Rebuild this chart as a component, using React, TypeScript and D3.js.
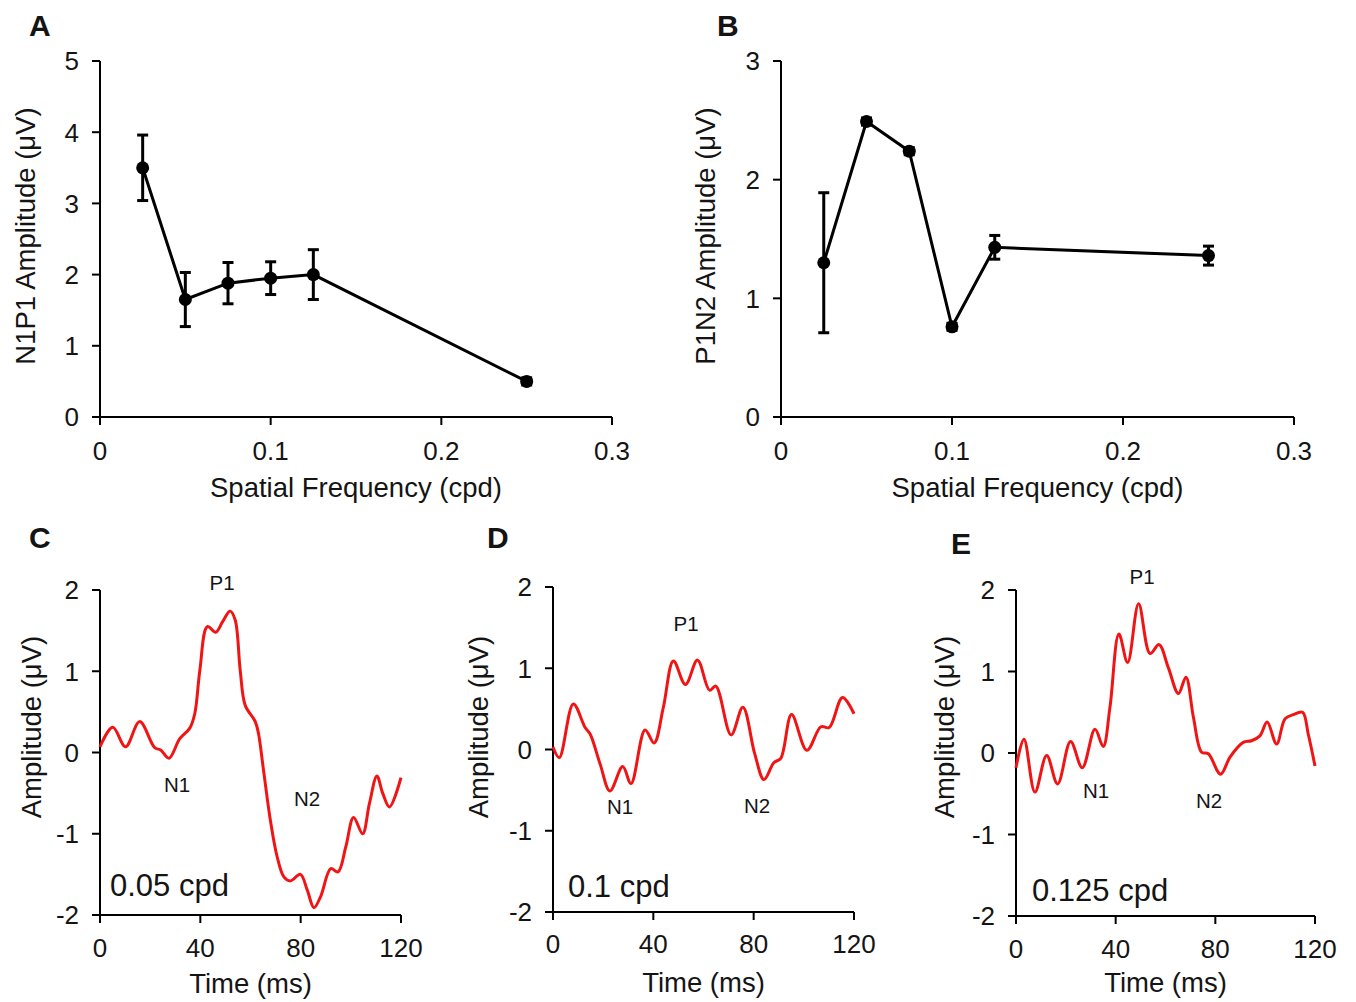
import React from "react";
import * as d3 from "d3";

// ---------- data ----------
const spatialFreq = [0.025, 0.05, 0.075, 0.1, 0.125, 0.25];
const n1p1Amp = [3.5, 1.65, 1.88, 1.95, 2.0, 0.5];
const n1p1Err = [0.46, 0.38, 0.29, 0.23, 0.35, 0.05];
const p1n2Amp = [1.3, 2.49, 2.24, 0.76, 1.43, 1.36];
const p1n2Err = [0.59, 0.03, 0.03, 0.03, 0.1, 0.08];

const sfTicks = [0, 0.1, 0.2, 0.3];
const sfTickLabels = ["0", "0.1", "0.2", "0.3"];
const aTicks = [0, 1, 2, 3, 4, 5];
const bTicks = [0, 1, 2, 3];
const timeTicks = [0, 40, 80, 120];
const ampTicks = [-2, -1, 0, 1, 2];

// waveforms: [time ms, amplitude µV]
const wave005: [number, number][] = [
  [0, 0.07], [5.1, 0.31], [10.2, 0.07], [15.8, 0.38], [21.8, 0.06], [24.2, 0.03],
  [27.5, -0.07], [31.8, 0.17], [35.8, 0.3], [37.8, 0.48], [39.8, 1.01], [42.8, 1.55],
  [46.1, 1.48], [48.9, 1.61], [51.9, 1.74], [53.9, 1.63], [55.9, 1.01], [57.9, 0.58],
  [61.9, 0.38], [63.2, 0.23], [65.2, -0.22], [67.9, -0.83], [70.6, -1.28], [73.3, -1.53],
  [75.9, -1.58], [79.9, -1.5], [82.6, -1.69], [85.3, -1.91], [88.0, -1.77], [92.0, -1.43],
  [94.9, -1.47], [98.0, -1.16], [101.1, -0.8], [104.7, -1.0], [107.4, -0.63], [110.4, -0.29],
  [112.7, -0.5], [115.4, -0.67], [120, -0.31],
];
const wave01: [number, number][] = [
  [0, 0.03], [2.5, -0.1], [8.1, 0.56], [12.8, 0.27], [14.8, 0.19], [18.8, -0.18],
  [22.7, -0.51], [27.8, -0.21], [31.1, -0.42], [36.7, 0.24], [40.3, 0.08], [44.0, 0.52],
  [48.0, 1.09], [52.8, 0.8], [57.6, 1.1], [62.4, 0.73], [64.9, 0.78], [71.0, 0.18],
  [75.7, 0.52], [80.4, -0.05], [84.1, -0.37], [88.1, -0.16], [90.8, -0.11], [95.1, 0.43],
  [101.2, -0.01], [106.8, 0.28], [110.1, 0.27], [115.4, 0.64], [120, 0.44],
];
const wave0125: [number, number][] = [
  [0, -0.18], [3.2, 0.17], [7.6, -0.48], [12.3, -0.03], [16.7, -0.38], [21.9, 0.14],
  [26.6, -0.18], [31.7, 0.29], [35.0, 0.08], [37.7, 0.56], [41.3, 1.46], [44.8, 1.11],
  [49.2, 1.83], [53.8, 1.22], [57.4, 1.33], [61.1, 1.05], [65.2, 0.73], [68.2, 0.93],
  [71.2, 0.44], [74.5, 0.01], [77.2, -0.01], [82.1, -0.26], [85.9, -0.05], [91.2, 0.13],
  [94.5, 0.15], [97.9, 0.21], [100.8, 0.38], [104.6, 0.11], [108.0, 0.42], [111.3, 0.47],
  [115.0, 0.5], [117.3, 0.23], [120, -0.16],
];

const FONT = "'Liberation Sans', Arial, Helvetica, sans-serif";
const TXT = "#141414";
const TICK_FS = 26;
const TITLE_FS = 27.5;
const LETTER_FS = 30;

type PanelProps = {
  x0: number; x1: number; y0: number; y1: number;
};

function ErrorPanel(props: {
  letter: string; letterX: number; x0: number; x1: number; yBot: number; yTop: number;
  yMax: number; yTicks: number[]; values: number[]; errs: number[]; yTitle: string; yTitleX: number; yTitleY: number;
}) {
  const { x0, x1, yBot, yTop } = props;
  const x = d3.scaleLinear().domain([0, 0.3]).range([x0, x1]);
  const y = d3.scaleLinear().domain([0, props.yMax]).range([yBot, yTop]);
  const pts = spatialFreq.map((f, i) => [f, props.values[i]] as [number, number]);
  const line = d3.line<[number, number]>().x((d) => x(d[0])).y((d) => y(d[1]));
  return (
    <g>
      <text x={props.letterX} y={36} fontFamily={FONT} fontWeight="bold" fontSize={LETTER_FS} fill={TXT}>{props.letter}</text>
      <line x1={x0} x2={x0} y1={yTop} y2={yBot} stroke="#000" strokeWidth={2} />
      <line x1={x0} x2={x1} y1={yBot} y2={yBot} stroke="#000" strokeWidth={2} />
      {props.yTicks.map((t) => (
        <g key={"y" + t}>
          <line x1={x0 - 8} x2={x0} y1={y(t)} y2={y(t)} stroke="#000" strokeWidth={2} />
          <text x={x0 - 21} y={y(t)} dy="0.36em" textAnchor="end" fontFamily={FONT} fontSize={TICK_FS} fill={TXT}>{t}</text>
        </g>
      ))}
      {sfTicks.map((t, i) => (
        <g key={"x" + t}>
          <line x1={x(t)} x2={x(t)} y1={yBot} y2={yBot + 8} stroke="#000" strokeWidth={2} />
          <text x={x(t)} y={yBot + 43} textAnchor="middle" fontFamily={FONT} fontSize={TICK_FS} fill={TXT}>{sfTickLabels[i]}</text>
        </g>
      ))}
      <text x={(x0 + x1) / 2} y={yBot + 80} textAnchor="middle" fontFamily={FONT} fontSize={TITLE_FS} fill={TXT}>Spatial Frequency (cpd)</text>
      <text transform={`translate(${props.yTitleX},${props.yTitleY}) rotate(-90)`} dy="0.36em" textAnchor="middle" fontFamily={FONT} fontSize={TITLE_FS} fill={TXT}>{props.yTitle}</text>
      <path d={line(pts) || ""} fill="none" stroke="#000" strokeWidth={3} />
      {pts.map((p, i) => {
        const lo = y(p[1] - props.errs[i]);
        const hi = y(p[1] + props.errs[i]);
        const cx = x(p[0]);
        return (
          <g key={"e" + i}>
            <line x1={cx} x2={cx} y1={lo} y2={hi} stroke="#000" strokeWidth={3} />
            <line x1={cx - 5.5} x2={cx + 5.5} y1={lo} y2={lo} stroke="#000" strokeWidth={3} />
            <line x1={cx - 5.5} x2={cx + 5.5} y1={hi} y2={hi} stroke="#000" strokeWidth={3} />
            <circle cx={cx} cy={y(p[1])} r={6.5} fill="#000" />
          </g>
        );
      })}
    </g>
  );
}

function WavePanel(props: PanelProps & {
  letter: string; letterX: number; letterY: number; data: [number, number][];
  labels: { t: string; x: number; y: number }[]; cpd: string; cpdX: number; cpdY: number;
  yTitleX: number; yTitleY: number; tickDy: number; titleDy: number;
}) {
  const { x0, x1, y0, y1 } = props; // y0 = bottom (-2), y1 = top (2)
  const x = d3.scaleLinear().domain([0, 120]).range([x0, x1]);
  const y = d3.scaleLinear().domain([-2, 2]).range([y0, y1]);
  const line = d3.line<[number, number]>().x((d) => x(d[0])).y((d) => y(d[1])).curve(d3.curveCatmullRom.alpha(0.5));
  return (
    <g>
      <text x={props.letterX} y={props.letterY} fontFamily={FONT} fontWeight="bold" fontSize={LETTER_FS} fill={TXT}>{props.letter}</text>
      <line x1={x0} x2={x0} y1={y1} y2={y0} stroke="#000" strokeWidth={2} />
      <line x1={x0} x2={x1} y1={y0} y2={y0} stroke="#000" strokeWidth={2} />
      {ampTicks.map((t) => (
        <g key={"y" + t}>
          <line x1={x0 - 8} x2={x0} y1={y(t)} y2={y(t)} stroke="#000" strokeWidth={2} />
          <text x={x0 - 21} y={y(t)} dy="0.36em" textAnchor="end" fontFamily={FONT} fontSize={TICK_FS} fill={TXT}>{t}</text>
        </g>
      ))}
      {timeTicks.map((t) => (
        <g key={"x" + t}>
          <line x1={x(t)} x2={x(t)} y1={y0} y2={y0 + 8} stroke="#000" strokeWidth={2} />
          <text x={x(t)} y={y0 + props.tickDy} textAnchor="middle" fontFamily={FONT} fontSize={TICK_FS} fill={TXT}>{t}</text>
        </g>
      ))}
      <text x={(x0 + x1) / 2} y={y0 + props.titleDy} textAnchor="middle" fontFamily={FONT} fontSize={TITLE_FS} fill={TXT}>Time (ms)</text>
      <text transform={`translate(${props.yTitleX},${props.yTitleY}) rotate(-90)`} dy="0.36em" textAnchor="middle" fontFamily={FONT} fontSize={TITLE_FS} fill={TXT}>Amplitude (μV)</text>
      <path d={line(props.data) || ""} fill="none" stroke="#f01414" strokeWidth={3} strokeLinejoin="round" />
      {props.labels.map((l) => (
        <text key={l.t} x={l.x} y={l.y} textAnchor="middle" fontFamily={FONT} fontSize={20.5} fill={TXT}>{l.t}</text>
      ))}
      <text x={props.cpdX} y={props.cpdY} fontFamily={FONT} fontSize={31} fill={TXT}>{props.cpd}</text>
    </g>
  );
}

export default function App() {
  return (
    <svg width={1356} height={1002} style={{ display: "block", position: "absolute", left: 0, top: 0, background: "#fff" }}>
      <rect width={1356} height={1002} fill="#fff" />
      <ErrorPanel letter="A" letterX={29} x0={100} x1={612} yBot={417} yTop={61} yMax={5} yTicks={aTicks}
        values={n1p1Amp} errs={n1p1Err} yTitle="N1P1 Amplitude (μV)" yTitleX={25} yTitleY={236} />
      <ErrorPanel letter="B" letterX={717} x0={781} x1={1294} yBot={417} yTop={61} yMax={3} yTicks={bTicks}
        values={p1n2Amp} errs={p1n2Err} yTitle="P1N2 Amplitude (μV)" yTitleX={705} yTitleY={236} />
      <WavePanel letter="C" letterX={29} letterY={548} x0={100} x1={401} y0={915} y1={590} data={wave005}
        labels={[{ t: "P1", x: 222, y: 590 }, { t: "N1", x: 177, y: 792 }, { t: "N2", x: 307, y: 806 }]}
        cpd="0.05 cpd" cpdX={110} cpdY={896} yTitleX={31} yTitleY={727} tickDy={42} titleDy={78} />
      <WavePanel letter="D" letterX={487} letterY={548} x0={553} x1={854} y0={912} y1={587} data={wave01}
        labels={[{ t: "P1", x: 686, y: 631 }, { t: "N1", x: 620, y: 814 }, { t: "N2", x: 757, y: 813 }]}
        cpd="0.1 cpd" cpdX={568} cpdY={897} yTitleX={478} yTitleY={727} tickDy={41} titleDy={80} />
      <WavePanel letter="E" letterX={951} letterY={554} x0={1016} x1={1315} y0={916} y1={590} data={wave0125}
        labels={[{ t: "P1", x: 1142, y: 584 }, { t: "N1", x: 1096, y: 798 }, { t: "N2", x: 1209, y: 808 }]}
        cpd="0.125 cpd" cpdX={1032} cpdY={901} yTitleX={944} yTitleY={727} tickDy={42} titleDy={76} />
    </svg>
  );
}
